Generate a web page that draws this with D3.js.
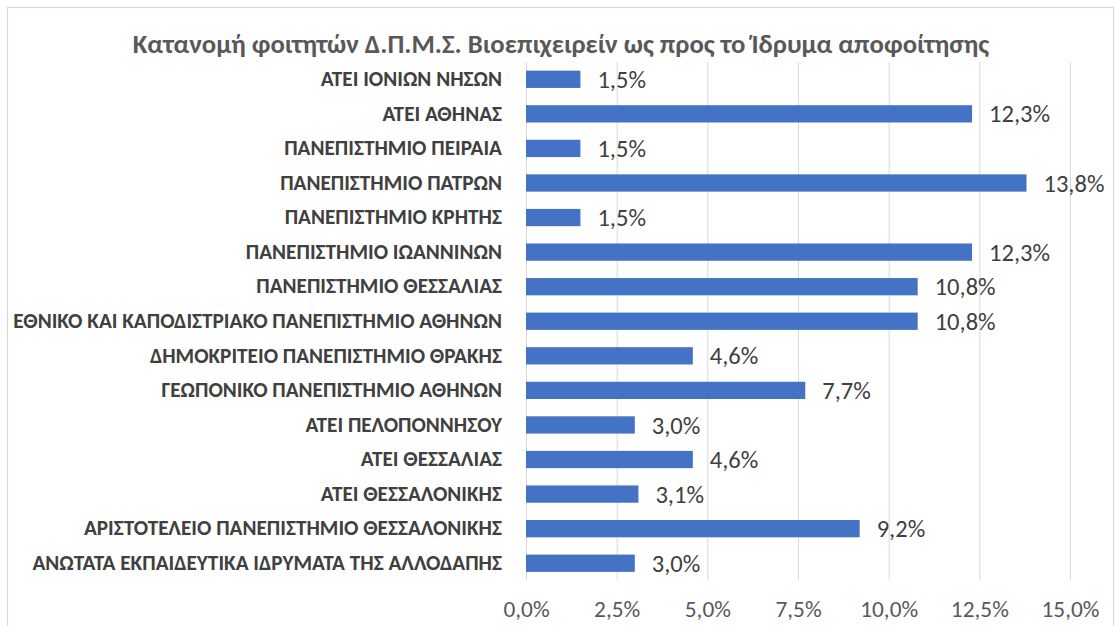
<!DOCTYPE html>
<html>
<head>
<meta charset="utf-8">
<script src="https://cdn.jsdelivr.net/npm/d3@7"></script>
<style>
  html, body { margin: 0; padding: 0; background: #fff; }
  svg { display: block; }
</style>
</head>
<body>
<svg id="chart" width="1115" height="626"></svg>
<script>
const title = "Κατανομή φοιτητών Δ.Π.Μ.Σ. Βιοεπιχειρείν ως προς το Ίδρυμα αποφοίτησης";
const categories = [
  "ΑΤΕΙ ΙΟΝΙΩΝ ΝΗΣΩΝ",
  "ΑΤΕΙ ΑΘΗΝΑΣ",
  "ΠΑΝΕΠΙΣΤΗΜΙΟ ΠΕΙΡΑΙΑ",
  "ΠΑΝΕΠΙΣΤΗΜΙΟ ΠΑΤΡΩΝ",
  "ΠΑΝΕΠΙΣΤΗΜΙΟ ΚΡΗΤΗΣ",
  "ΠΑΝΕΠΙΣΤΗΜΙΟ ΙΩΑΝΝΙΝΩΝ",
  "ΠΑΝΕΠΙΣΤΗΜΙΟ ΘΕΣΣΑΛΙΑΣ",
  "ΕΘΝΙΚΟ ΚΑΙ ΚΑΠΟΔΙΣΤΡΙΑΚΟ ΠΑΝΕΠΙΣΤΗΜΙΟ ΑΘΗΝΩΝ",
  "ΔΗΜΟΚΡΙΤΕΙΟ ΠΑΝΕΠΙΣΤΗΜΙΟ ΘΡΑΚΗΣ",
  "ΓΕΩΠΟΝΙΚΟ ΠΑΝΕΠΙΣΤΗΜΙΟ ΑΘΗΝΩΝ",
  "ΑΤΕΙ ΠΕΛΟΠΟΝΝΗΣΟΥ",
  "ΑΤΕΙ ΘΕΣΣΑΛΙΑΣ",
  "ΑΤΕΙ ΘΕΣΣΑΛΟΝΙΚΗΣ",
  "ΑΡΙΣΤΟΤΕΛΕΙΟ ΠΑΝΕΠΙΣΤΗΜΙΟ ΘΕΣΣΑΛΟΝΙΚΗΣ",
  "ΑΝΩΤΑΤΑ ΕΚΠΑΙΔΕΥΤΙΚΑ ΙΔΡΥΜΑΤΑ ΤΗΣ ΑΛΛΟΔΑΠΗΣ"
];
const values = [1.5, 12.3, 1.5, 13.8, 1.5, 12.3, 10.8, 10.8, 4.6, 7.7, 3.0, 4.6, 3.1, 9.2, 3.0];
const tickValues = [0, 2.5, 5, 7.5, 10, 12.5, 15];

const FONT = "Carlito, 'Noto Sans', 'Open Sans', sans-serif";
const svg = d3.select("#chart");
const fmt = v => d3.format(".1f")(v).replace(".", ",") + "%";

// chart border
svg.append("rect")
  .attr("x", 7.5).attr("y", 7.5).attr("width", 1106).attr("height", 640)
  .attr("fill", "none").attr("stroke", "#d9d9d9").attr("stroke-width", 1.2);

const x = d3.scaleLinear().domain([0, 15]).range([526, 1070]);
const y = d3.scaleBand().domain(categories).range([62, 580.5]).paddingInner(0.5).paddingOuter(0.25);

// fit helper: sets font-size so that text width matches target
function fitSize(sel, base, target) {
  const w = sel.node().getComputedTextLength();
  return base * target / w;
}

// gridlines
svg.append("g").selectAll("line").data(tickValues).join("line")
  .attr("x1", d => x(d) + 0.5).attr("x2", d => x(d) + 0.5)
  .attr("y1", 62).attr("y2", 580.5)
  .attr("stroke", "#d9d9d9").attr("stroke-width", 1);

// title
const t = svg.append("text")
  .attr("x", 561).attr("y", 53)
  .attr("text-anchor", "middle")
  .attr("font-family", FONT).attr("font-weight", "bold")
  .attr("font-size", 20).attr("fill", "#595959")
  .text(title);
t.attr("font-size", fitSize(t, 20, 857));

// bars
svg.append("g").selectAll("rect").data(values).join("rect")
  .attr("x", x(0))
  .attr("y", (d, i) => y(categories[i]))
  .attr("width", d => x(d) - x(0))
  .attr("height", y.bandwidth())
  .attr("fill", "#4472c4");

// data labels
const probe = svg.append("text").attr("font-family", FONT).attr("font-size", 18).text("13,8%");
const dlSize = fitSize(probe, 18, 61);
probe.remove();
svg.append("g").selectAll("text").data(values).join("text")
  .attr("x", d => x(d) + 17)
  .attr("y", (d, i) => y(categories[i]) + y.bandwidth() / 2)
  .attr("dy", "0.35em")
  .attr("font-family", FONT).attr("font-size", dlSize)
  .attr("fill", "#404040")
  .text(d => fmt(d));

// category axis
const yAxis = svg.append("g")
  .attr("transform", `translate(${x(0)},0)`)
  .call(d3.axisLeft(y).tickSize(0).tickPadding(24));
yAxis.select(".domain").remove();
yAxis.selectAll("text")
  .attr("font-family", FONT).attr("font-weight", "bold")
  .attr("font-size", 15).attr("fill", "#404040");
const longest = yAxis.selectAll("text").filter(d => d === categories[7]);
const catSize = fitSize(longest, 15, 489);
yAxis.selectAll("text").attr("font-size", catSize);

// value axis
const probe2 = svg.append("text").attr("font-family", FONT).attr("font-size", 18).text("15,0%");
const tkSize = fitSize(probe2, 18, 58);
probe2.remove();
const xAxis = svg.append("g")
  .attr("transform", "translate(0,580.5)")
  .call(d3.axisBottom(x).tickValues(tickValues).tickFormat(fmt).tickSize(0).tickPadding(20));
xAxis.select(".domain").remove();
xAxis.selectAll("text")
  .attr("font-family", FONT).attr("font-size", tkSize).attr("fill", "#595959");
</script>
</body>
</html>
